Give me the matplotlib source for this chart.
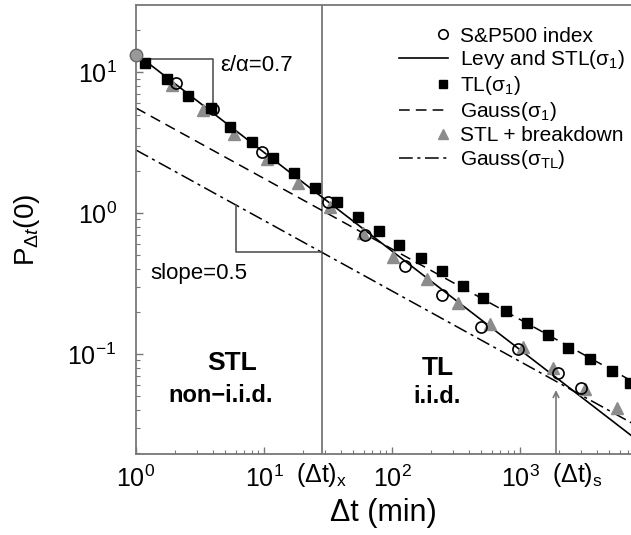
import numpy as np
import matplotlib
matplotlib.use("Agg")
import matplotlib.pyplot as plt
from matplotlib.legend_handler import HandlerLine2D

plt.rcParams["font.family"] = ["Liberation Sans", "DejaVu Sans"]
plt.rcParams["mathtext.fontset"] = "custom"
plt.rcParams["mathtext.rm"] = "Liberation Sans"
plt.rcParams["mathtext.it"] = "Liberation Sans:italic"
plt.rcParams["mathtext.bf"] = "Liberation Sans:bold"

# ---- data ----
sp_dt = [2.05, 4.0, 9.65, 31.6, 61.5, 126, 246, 496, 964, 1982, 3000]
sp_p = [8.36, 5.47, 2.71, 1.20, 0.698, 0.421, 0.262, 0.155, 0.108, 0.0732, 0.0574]

tl_dt = [1.18, 1.75, 2.55, 3.85, 5.42, 8.05, 11.7, 17.1, 25.0, 37.2, 54.2, 79.1,
         113, 169, 246, 359, 514, 778, 1135, 1655, 2371, 3524, 5233, 7230]
tl_p = [11.6, 8.9, 6.76, 5.56, 4.07, 3.19, 2.46, 1.92, 1.50, 1.20, 0.94, 0.745,
        0.593, 0.480, 0.388, 0.303, 0.249, 0.202, 0.166, 0.136, 0.110, 0.092, 0.0757, 0.0622]

stl_dt = [1.91, 3.34, 5.83, 10.5, 18.4, 32.8, 59.3, 102, 188, 328, 583, 1055, 1811, 3221, 5724]
stl_p = [8.09, 5.37, 3.63, 2.42, 1.63, 1.10, 0.722, 0.488, 0.340, 0.230, 0.163, 0.112, 0.0796, 0.0565, 0.0414]

start_dt = [1.0]
start_p = [13.2]

line_dt = [1.0, 7400]
levy_p = [13.5, 13.5 * 7400 ** -0.7]
gauss1_p = [5.56, 5.56 * 7400 ** -0.5]
gausstl_p = [2.8, 2.8 * 7400 ** -0.5]

dt_x = 28.4
dt_s = 1910


class RightMarker(HandlerLine2D):
    # put the single legend marker at the right end of the handle box
    def get_xdata(self, legend, xdescent, ydescent, width, height, fontsize):
        m = -xdescent + width - 0.25 * fontsize
        return np.array([m - 1, m + 1]), np.array([m])


fig = plt.figure(figsize=(6.31, 5.35), dpi=100)
ax = fig.add_axes([136 / 631, 1 - 454 / 535, 495 / 631, 449 / 535])
ax.set_xscale("log")
ax.set_yscale("log")
ax.set_xlim(1, 10 ** 3.867)
ax.set_ylim(0.01954, 29.9)

gray = "#777777"
ax.axvline(dt_x, color=gray, lw=1.3, zorder=1)

l_levy, = ax.plot(line_dt, levy_p, color="black", lw=1.2, label="Levy and STL(σ$_1$)")
l_g1, = ax.plot(line_dt, gauss1_p, color="black", lw=1.1, ls=(0, (7, 4)), label="Gauss(σ$_1$)")
l_gtl, = ax.plot(line_dt, gausstl_p, color="black", lw=1.1, ls=(0, (9, 3, 2, 3)),
                 label="Gauss(σ$_{\\mathrm{TL}}$)")

l_sp, = ax.plot(sp_dt, sp_p, "o", ms=8, mfc="none", mec="black", mew=1.2, label="S&P500 index", zorder=4)
l_stl, = ax.plot(stl_dt, stl_p, "^", ms=9, color="#8c8c8c", mec="#8c8c8c", label="STL + breakdown", zorder=3)
l_tl, = ax.plot(tl_dt, tl_p, "s", ms=6.5, color="black", label="TL(σ$_1$)", zorder=5)
ax.plot(start_dt, start_p, "o", ms=9, color="#999999", mec="#666666", mew=1, clip_on=False, zorder=6)

# slope guides
ax.plot([1, 4, 4], [12.4, 12.4, 5.5], color="#555555", lw=1.2, zorder=2)
ax.plot([6.04, 6.04, dt_x], [1.14, 0.53, 0.53], color="#555555", lw=1.2, zorder=2)

ax.text(4.55, 11.2, "ε/α=0.7", fontsize=16, va="center", ha="left")
ax.text(1.29, 0.375, "slope=0.5", fontsize=16, va="center", ha="left")
ax.text(5.62, 0.0863, "STL", fontsize=19, fontweight="bold", ha="center", va="center")
ax.text(4.61, 0.0512, "non−i.i.d.", fontsize=17, fontweight="bold", ha="center", va="center")
ax.text(229, 0.0796, "TL", fontsize=19, fontweight="bold", ha="center", va="center")
ax.text(226, 0.0496, "i.i.d.", fontsize=17, fontweight="bold", ha="center", va="center")

ax.annotate("", xy=(dt_s, 0.0555), xytext=(dt_s, ax.get_ylim()[0]),
            arrowprops=dict(arrowstyle="->", color=gray, lw=1.2, shrinkA=0, shrinkB=0))

ax.text(dt_x, -0.015, "(Δt)$_\\mathrm{x}$", transform=ax.get_xaxis_transform(),
        fontsize=18, ha="center", va="top")
ax.text(dt_s * 0.93, -0.015, "(Δt)$_\\mathrm{s}$", transform=ax.get_xaxis_transform(),
        fontsize=18, ha="left", va="top")

ax.set_xlabel("Δt (min)", fontsize=22, labelpad=5)
ax.set_ylabel("P$_{\\Delta t}$(0)", fontsize=20, labelpad=18)

ax.tick_params(which="both", direction="in", colors=gray, labelcolor="black",
               labelsize=18, top=False, right=False)
ax.tick_params(which="major", length=5, width=1)
ax.tick_params(which="minor", length=3, width=0.8)
ax.tick_params(axis="y", pad=14)
ax.tick_params(axis="x", pad=8)
ax.set_xticks([1, 10, 100, 1000])
for side in ["left", "bottom", "top"]:
    ax.spines[side].set_color(gray)
    ax.spines[side].set_linewidth(1.3)
ax.spines["right"].set_visible(False)

handles = [l_sp, l_levy, l_tl, l_g1, l_stl, l_gtl]
ax.legend(handles=handles, loc="upper left", bbox_to_anchor=(0.531, 0.952), frameon=False,
          fontsize=15, handlelength=2.35, handletextpad=0.58, labelspacing=0.14,
          borderaxespad=0, borderpad=0, numpoints=1, markerscale=0.85,
          handler_map={l_sp: RightMarker(), l_tl: RightMarker(), l_stl: RightMarker()})

fig.savefig("out.png", dpi=100)
